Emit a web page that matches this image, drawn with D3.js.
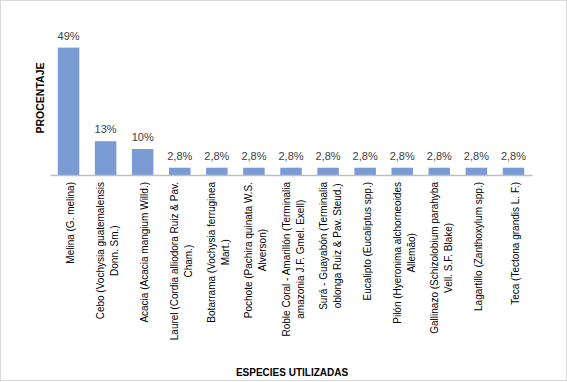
<!DOCTYPE html>
<html>
<head>
<meta charset="utf-8">
<script src="https://cdn.jsdelivr.net/npm/d3@7"></script>
<style>
  body { margin: 0; background: #fff; }
  svg { display: block; }
</style>
</head>
<body>
<div class="container"></div>
<script>
// especies (cada elemento = líneas de la etiqueta)
const species = [
  ["Melina (G. melina)"],
  ["Cebo (Vochysia guatemalensis", "Donn. Sm.)"],
  ["Acacia (Acacia mangium Willd.)"],
  ["Laurel (Cordia alliodora Ruiz & Pav.", "Cham.)"],
  ["Botarrama (Vochysia ferruginea", "Mart.)"],
  ["Pochote (Pachira quinata W.S.", "Alverson)"],
  ["Roble Coral - Amarillón (Terminalia", "amazonia J.F. Gmel. Exell)"],
  ["Surá - Guayabón (Terminalia", "oblonga Ruiz & Pav. Steud.)"],
  ["Eucalipto (Eucaliptus spp.)"],
  ["Pilón (Hyeronima alchorneoides", "Allemão)"],
  ["Gallinazo (Schizolobium parahyba", "Vell. S.F. Blake)"],
  ["Lagartillo (Zanthoxylum spp.)"],
  ["Teca (Tectona grandis L. F.)"]
];
// porcentaje de uso
const values = [49, 13, 10, 2.8, 2.8, 2.8, 2.8, 2.8, 2.8, 2.8, 2.8, 2.8, 2.8];
const valueLabels = ["49%", "13%", "10%", "2,8%", "2,8%", "2,8%", "2,8%", "2,8%", "2,8%", "2,8%", "2,8%", "2,8%", "2,8%"];

const W = 567, H = 382;
const font = "'Liberation Sans', Arial, sans-serif";
const narrow = "'Liberation Sans Narrow', 'Liberation Sans', Arial, sans-serif";

const svg = d3.select(".container").append("svg")
  .attr("width", W)
  .attr("height", H);

// marco
svg.append("rect")
  .attr("x", 0.5).attr("y", 0.5)
  .attr("width", W - 1).attr("height", H - 2)
  .attr("fill", "#fff")
  .attr("stroke", "#d9d9d9");

const x = d3.scaleBand()
  .domain(d3.range(species.length))
  .range([50, 532])
  .paddingInner(0.42)
  .paddingOuter(0.21);

const y = d3.scaleLinear()
  .domain([0, 50])
  .range([175, 45]);

// barras
svg.selectAll(".bar")
  .data(values)
  .enter().append("rect")
  .attr("class", "bar")
  .attr("x", (d, i) => x(i))
  .attr("y", d => y(d))
  .attr("width", x.bandwidth())
  .attr("height", d => y(0) - y(d))
  .attr("fill", "#7b9bd5");

// etiquetas de valor
svg.selectAll(".val")
  .data(values)
  .enter().append("text")
  .attr("class", "val")
  .attr("x", (d, i) => x(i) + x.bandwidth() / 2)
  .attr("y", d => y(d) - 8)
  .attr("text-anchor", "middle")
  .style("font-family", narrow)
  .style("font-size", "11px")
  .style("fill", "#404040")
  .text((d, i) => valueLabels[i]);

// eje X
const xAxis = svg.append("g")
  .attr("transform", `translate(0,${y(0)})`)
  .call(d3.axisBottom(x).tickSize(0).tickFormat(""));
xAxis.select(".domain").attr("stroke", "#bfbfbf").attr("stroke-width", 1.5);

// etiquetas de categoría (rotadas, con ajuste de línea)
const lineH = 14;
const labelTop = 182;
const labelSize = "10px";
species.forEach((lines, i) => {
  const cx = x(i) + x.bandwidth() / 2 + 2;
  const n = lines.length;
  let bw = 0;
  if (n > 1) {
    const tmp = svg.append("text").style("font-family", font).style("font-size", labelSize)
      .text(lines[0]);
    bw = tmp.node().getComputedTextLength();
    tmp.remove();
  }
  lines.forEach((l, j) => {
    const lx = cx + (j - (n - 1) / 2) * lineH;
    const t = svg.append("text")
      .attr("transform", `translate(${lx},${labelTop}) rotate(-90)`)
      .attr("dy", "0.35em")
      .style("font-family", font)
      .style("font-size", labelSize)
      .style("fill", "#000")
      .text(l);
    if (n > 1) {
      t.attr("text-anchor", "middle").attr("x", -bw / 2);
    } else {
      t.attr("text-anchor", "end");
    }
  });
});

// títulos de ejes
svg.append("text")
  .attr("transform", `translate(44,98) rotate(-90)`)
  .attr("text-anchor", "middle")
  .style("font-family", narrow)
  .style("font-size", "10.5px")
  .style("font-weight", "bold")
  .text("PROCENTAJE");

svg.append("text")
  .attr("x", 292)
  .attr("y", 376)
  .attr("text-anchor", "middle")
  .style("font-family", narrow)
  .style("font-size", "10px")
  .style("font-weight", "bold")
  .text("ESPECIES UTILIZADAS");
</script>
</body>
</html>
